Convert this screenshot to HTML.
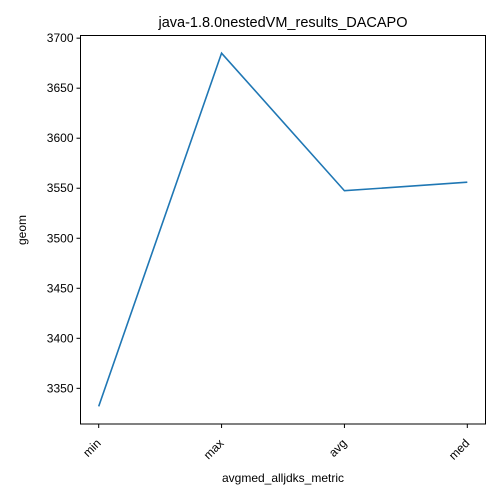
<!DOCTYPE html>
<html><head><meta charset="utf-8"><style>body{margin:0;background:#fff}svg{display:block;font-family:"Liberation Sans","DejaVu Sans",sans-serif}</style></head>
<body>
<svg id="chart" width="500" height="500">
<rect width="500" height="500" fill="#fff"/>
<text x="283" y="27" font-size="14.5" text-anchor="middle">java-1.8.0nestedVM_results_DACAPO</text>
<text x="283" y="482" font-size="12" text-anchor="middle">avgmed_alljdks_metric</text>
<text transform="translate(26,230) rotate(-90)" font-size="12" text-anchor="middle">geom</text>
<g id="yticks"></g><g id="xticks"></g>
<path id="line" fill="none" stroke="#1f77b4" stroke-width="1.6"/>
<rect x="80.5" y="35.5" width="405" height="388.5" fill="none" stroke="#000" stroke-width="1"/>
</svg>
<script>
const categories=["min","max","avg","med"];
const values=[3332,3685,3547.5,3556];
const yTickLabels=[3350,3400,3450,3500,3550,3600,3650,3700];
const L=80.5,R=485.5,T=35.5,B=424;
const lo=3314.35,hi=3702.65;
const pad=18.2;
const xs=i=>L+pad+(R-L-2*pad)*i/(categories.length-1);
const ys=v=>B-(v-lo)/(hi-lo)*(B-T);
const ns="http://www.w3.org/2000/svg";
const yg=document.getElementById('yticks'),xg=document.getElementById('xticks');
yTickLabels.forEach(v=>{const y=ys(v);
const l=document.createElementNS(ns,'line');l.setAttribute('x1',L-4);l.setAttribute('x2',L);l.setAttribute('y1',y);l.setAttribute('y2',y);l.setAttribute('stroke','#000');


yg.appendChild(l);
const t=document.createElementNS(ns,'text');t.setAttribute('x',L-7);t.setAttribute('y',y+4);t.setAttribute('font-size','12');t.setAttribute('text-anchor','end');t.textContent=v;


yg.appendChild(t);});
categories.forEach((c,i)=>{const x=xs(i);
const l=document.createElementNS(ns,'line');l.setAttribute('x1',x);l.setAttribute('x2',x);l.setAttribute('y1',B);l.setAttribute('y2',B+4);l.setAttribute('stroke','#000');


xg.appendChild(l);
const t=document.createElementNS(ns,'text');t.setAttribute('transform',`translate(${x-3},${B+14}) rotate(-45)`);t.setAttribute('font-size','12');t.setAttribute('text-anchor','end');t.setAttribute('dy','0.7em');t.textContent=c;


xg.appendChild(t);});
document.getElementById('line').setAttribute('d',values.map((v,i)=>(i?'L':'M')+xs(i)+','+ys(v)).join(' '));
</script>
</body></html>
